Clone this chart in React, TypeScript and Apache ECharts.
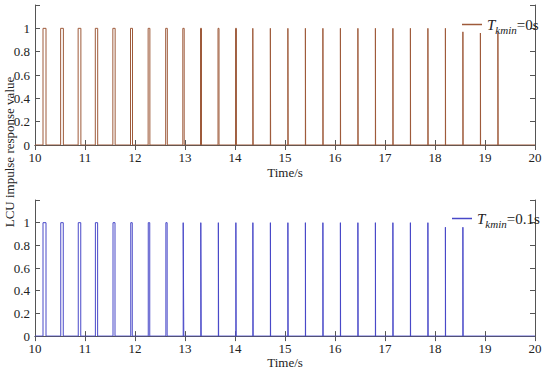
import React, { useEffect, useRef } from "react";
import * as echarts from "echarts";

// Pulse data (centre time in s, width in s, peak value)
const topName = "Tkmin=0s";
const bottomName = "Tkmin=0.1s";

const topCenters = [10.19, 10.54, 10.89, 11.23, 11.58, 11.93, 12.28, 12.63, 12.97, 13.32, 13.67, 14.02, 14.36, 14.71, 15.06, 15.41, 15.76, 16.11, 16.46, 16.81, 17.16, 17.51, 17.86, 18.21, 18.56, 18.91, 19.26];
const topWidths = [0.06, 0.055, 0.055, 0.048, 0.046, 0.04, 0.035, 0.033, 0.027, 0.02, 0.02, 0.018, 0.008, 0.006, 0.005, 0.005, 0.004, 0.004, 0.004, 0.004, 0.004, 0.004, 0.004, 0.004, 0.004, 0.004, 0.004];
const topHeights = [1, 1, 1, 1, 1, 1, 1, 1, 1, 1, 1, 1, 1, 1, 1, 1, 1, 1, 1, 1, 1, 1, 1, 1, 0.97, 0.96, 0.965];

const bottomCenters = [10.19, 10.54, 10.89, 11.23, 11.58, 11.93, 12.28, 12.63, 12.97, 13.32, 13.67, 14.02, 14.36, 14.71, 15.06, 15.41, 15.76, 16.11, 16.46, 16.81, 17.16, 17.51, 17.86, 18.21, 18.56];
const bottomWidths = [0.06, 0.05, 0.05, 0.045, 0.04, 0.03, 0.03, 0.025, 0.012, 0.008, 0.006, 0.005, 0.005, 0.004, 0.004, 0.004, 0.004, 0.004, 0.004, 0.004, 0.004, 0.004, 0.004, 0.004, 0.004];
const bottomHeights = [1, 1, 1, 1, 1, 1, 1, 1, 1, 1, 1, 1, 1, 1, 1, 1, 1, 1, 1, 1, 1, 1, 1, 0.96, 0.96];

const timeMin = 10;
const timeMax = 20;

function buildPulses(centers: number[], widths: number[], heights: number[]) {
  const pts: number[][] = [[timeMin, 0]];
  centers.forEach((c, i) => {
    const a = c - widths[i] / 2;
    const b = c + widths[i] / 2;
    pts.push([a, 0], [a, heights[i]], [b, heights[i]], [b, 0]);
  });
  pts.push([timeMax, 0]);
  return pts;
}

const FONT = "Liberation Serif";
const AXIS_COLOR = "#555";
const TEXT_COLOR = "#222";
const TOP_COLOR = "#9E5A3A";
const BOTTOM_COLOR = "#4848C8";

function xAxes(gridIndex: number, nameGap: number) {
  return [
    {
      type: "value",
      gridIndex,
      min: timeMin,
      max: timeMax,
      interval: 1,
      name: "Time/s",
      nameLocation: "middle",
      nameGap,
      nameTextStyle: { fontFamily: FONT, fontSize: 13, color: TEXT_COLOR },
      axisLine: { show: true, lineStyle: { color: AXIS_COLOR, width: 1 } },
      axisTick: { show: true, inside: true, length: 5, lineStyle: { color: AXIS_COLOR } },
      axisLabel: { fontFamily: FONT, fontSize: 13, color: TEXT_COLOR, margin: 6 },
      splitLine: { show: false },
    },
    {
      type: "value",
      gridIndex,
      position: "top",
      min: timeMin,
      max: timeMax,
      interval: 1,
      axisLine: { show: true, lineStyle: { color: AXIS_COLOR, width: 1 } },
      axisTick: { show: true, inside: true, length: 5, lineStyle: { color: AXIS_COLOR } },
      axisLabel: { show: false },
      splitLine: { show: false },
    },
  ];
}

function yAxes(gridIndex: number) {
  return [
    {
      type: "value",
      gridIndex,
      min: 0,
      max: 1.2,
      interval: 0.2,
      axisLine: { show: true, lineStyle: { color: AXIS_COLOR, width: 1 } },
      axisTick: { show: true, inside: true, length: 5, lineStyle: { color: AXIS_COLOR } },
      axisLabel: {
        fontFamily: FONT,
        fontSize: 13,
        color: TEXT_COLOR,
        margin: 5,
        formatter: (v: number) => (v > 1.1 ? "" : String(Math.round(v * 10) / 10)),
      },
      splitLine: { show: false },
    },
    {
      type: "value",
      gridIndex,
      position: "right",
      min: 0,
      max: 1.2,
      interval: 0.2,
      axisLine: { show: true, lineStyle: { color: AXIS_COLOR, width: 1 } },
      axisTick: { show: true, inside: true, length: 5, lineStyle: { color: AXIS_COLOR } },
      axisLabel: { show: false },
      splitLine: { show: false },
    },
  ];
}

const legendRich = {
  i: { fontFamily: FONT, fontSize: 15, fontStyle: "italic", color: TEXT_COLOR },
  s: { fontFamily: FONT, fontSize: 11, fontStyle: "italic", color: TEXT_COLOR, padding: [10, 0, 0, 0] },
  n: { fontFamily: FONT, fontSize: 15, color: TEXT_COLOR },
};

function legendFormatter(name: string) {
  const suffix = name === topName ? "=0s" : "=0.1s";
  return "{i|T}{s|kmin}{n|" + suffix + "}";
}

export default function App() {
  const ref = useRef<HTMLDivElement>(null);
  useEffect(() => {
    if (!ref.current) return;
    document.body.style.margin = "0";
    const chart = echarts.init(ref.current, undefined, { renderer: "svg" });
    chart.setOption({
      animation: false,
      backgroundColor: "#fff",
      grid: [
        { left: 35, top: 5, width: 500, height: 140 },
        { left: 35, top: 200, width: 500, height: 140 },
      ],
      xAxis: [...xAxes(0, 21), ...xAxes(1, 14)],
      yAxis: [...yAxes(0), ...yAxes(1)],
      legend: [
        {
          data: [{ name: topName, icon: "rect", itemStyle: { color: TOP_COLOR, borderWidth: 0 } }],
          left: 457,
          top: 12,
          itemWidth: 20,
          itemHeight: 1.5,
          formatter: legendFormatter,
          textStyle: { rich: legendRich },
        },
        {
          data: [{ name: bottomName, icon: "rect", itemStyle: { color: BOTTOM_COLOR, borderWidth: 0 } }],
          left: 447,
          top: 206,
          itemWidth: 20,
          itemHeight: 1.5,
          formatter: legendFormatter,
          textStyle: { rich: legendRich },
        },
      ],
      graphic: [
        {
          type: "text",
          x: 9,
          y: 152,
          rotation: Math.PI / 2,
          style: {
            text: "LCU impulse response value",
            fontFamily: FONT,
            fontSize: 13,
            fill: TEXT_COLOR,
            align: "center",
            verticalAlign: "middle",
          },
        },
      ],
      series: [
        {
          name: topName,
          type: "line",
          xAxisIndex: 0,
          yAxisIndex: 0,
          symbol: "none",
          lineStyle: { color: TOP_COLOR, width: 1 },
          itemStyle: { color: TOP_COLOR },
          data: buildPulses(topCenters, topWidths, topHeights),
        },
        {
          name: bottomName,
          type: "line",
          xAxisIndex: 2,
          yAxisIndex: 2,
          symbol: "none",
          lineStyle: { color: BOTTOM_COLOR, width: 1 },
          itemStyle: { color: BOTTOM_COLOR },
          data: buildPulses(bottomCenters, bottomWidths, bottomHeights),
        },
      ],
    });
    return () => chart.dispose();
  }, []);
  return <div ref={ref} style={{ width: 550, height: 370 }} />;
}
